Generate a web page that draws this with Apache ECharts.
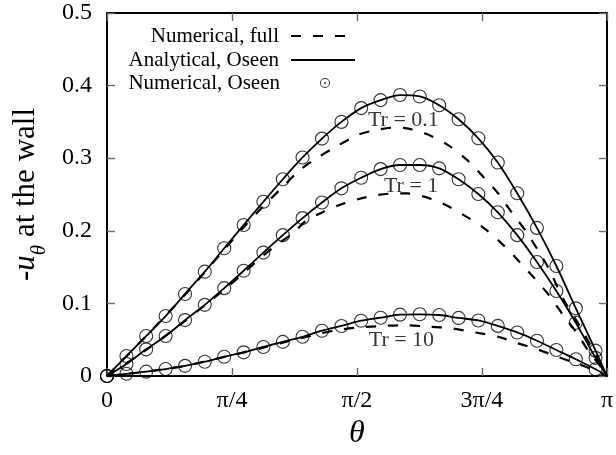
<!DOCTYPE html>
<html>
<head>
<meta charset="utf-8">
<script src="https://cdn.jsdelivr.net/npm/echarts@6/dist/echarts.min.js"></script>
<style>
html,body{margin:0;padding:0;background:#fff;}
#c{width:616px;height:455px;}
</style>
</head>
<body>
<div id="c"></div>
<script>
// ---- data (theta in degrees; axis labelled in multiples of pi) ----
var xTickValues = [0, 45, 90, 135, 180];
var xTickLabels = ['0', 'π/4', 'π/2', '3π/4', 'π'];

// sampling angles of the numerical Oseen points (circles)
var thetaCirc = [0, 7.0, 14.1, 21.1, 28.1, 35.2, 42.2, 49.2, 56.3, 63.3, 70.4, 77.4, 84.4,
  91.5, 98.5, 105.5, 112.6, 119.6, 126.6, 133.7, 140.7, 147.7, 154.8, 161.8, 168.8, 175.9];

var oseenNum01 = [0, 0.0275, 0.055, 0.0826, 0.113, 0.1437, 0.176, 0.208, 0.240, 0.271, 0.301, 0.327, 0.350,
  0.369, 0.380, 0.387, 0.385, 0.373, 0.3536, 0.3274, 0.294, 0.2517, 0.204, 0.1515, 0.0932, 0.0349];
var oseenNum1 = [0, 0.0165, 0.0367, 0.055, 0.077, 0.098, 0.121, 0.145, 0.170, 0.194, 0.2175, 0.239, 0.2585,
  0.273, 0.285, 0.2906, 0.2906, 0.286, 0.271, 0.2507, 0.2255, 0.194, 0.157, 0.117, 0.0734, 0.025];
var oseenNum10 = [0, 0.003, 0.006, 0.0096, 0.014, 0.0197, 0.0266, 0.0326, 0.040, 0.047, 0.054, 0.0624, 0.0689,
  0.0762, 0.0803, 0.0845, 0.085, 0.084, 0.080, 0.0765, 0.069, 0.060, 0.0486, 0.0358, 0.023, 0.0092];

// analytical Oseen curves (solid)
var thetaAna = [0, 7.0, 14.1, 21.1, 28.1, 35.2, 42.2, 49.2, 56.3, 63.3, 70.4, 77.4, 84.4,
  91.5, 98.5, 105.5, 112.6, 119.6, 126.6, 133.7, 140.7, 147.7, 154.8, 161.8, 168.8, 175.9, 180];
var oseenAna01 = [0, 0.0275, 0.055, 0.0826, 0.113, 0.1437, 0.176, 0.208, 0.240, 0.271, 0.301, 0.327, 0.350,
  0.369, 0.380, 0.387, 0.385, 0.373, 0.3536, 0.3274, 0.294, 0.2517, 0.204, 0.1515, 0.0932, 0.0349, 0];
var oseenAna1 = [0, 0.0165, 0.0367, 0.055, 0.077, 0.098, 0.121, 0.145, 0.170, 0.194, 0.2175, 0.239, 0.2585,
  0.273, 0.285, 0.2906, 0.2906, 0.286, 0.271, 0.2507, 0.2255, 0.194, 0.157, 0.117, 0.0734, 0.025, 0];
var oseenAna10 = [0, 0.003, 0.006, 0.0096, 0.014, 0.0197, 0.0266, 0.0326, 0.040, 0.047, 0.054, 0.0624, 0.0689,
  0.0762, 0.0803, 0.0845, 0.085, 0.084, 0.080, 0.0765, 0.069, 0.060, 0.0486, 0.0358, 0.023, 0.0092, 0];

// numerical full solution (dashed)
var thetaFull01 = [0, 14.1, 28.1, 42.2, 49.2, 56.3, 62.9, 69.5, 75.4, 82.5, 90.3, 96, 103, 108, 114.6, 122.4,
  129.5, 135.2, 140.8, 145.6, 150.9, 155.1, 159.2, 164, 170.5, 174.1, 180];
var full01 = [0, 0.055, 0.112, 0.174, 0.205, 0.234, 0.259, 0.284, 0.2998, 0.316, 0.332, 0.338, 0.342, 0.341, 0.334, 0.319,
  0.298, 0.2755, 0.2517, 0.226, 0.199, 0.1736, 0.147, 0.108, 0.067, 0.042, 0];
var thetaFull1 = [0, 14.1, 28.1, 42.2, 49.2, 56.3, 60.5, 67.7, 71.2, 77.8, 83.7, 90.3, 97.4, 104, 108, 114.1, 121.2,
  128.3, 135.8, 142.5, 148.3, 153.9, 159.2, 164, 169.4, 172.9, 177.7, 180];
var full1 = [0, 0.036, 0.076, 0.119, 0.142, 0.166, 0.179, 0.199, 0.2125, 0.226, 0.2355, 0.2434, 0.2493, 0.2515, 0.2515, 0.247, 0.237,
  0.222, 0.2034, 0.181, 0.158, 0.1346, 0.111, 0.085, 0.058, 0.037, 0.013, 0];
var thetaFull10 = [0, 14.1, 28.1, 42.2, 56.3, 63.3, 70.4, 76, 83.1, 90.9, 99.2, 106.9, 115.8, 124.2, 132.5, 140.8,
  148, 155.5, 162.5, 170, 174.7, 180];
var full10 = [0, 0.006, 0.014, 0.0262, 0.039, 0.046, 0.0525, 0.058, 0.0634, 0.067, 0.0689, 0.0700, 0.068, 0.0655, 0.060, 0.054,
  0.045, 0.036, 0.026, 0.016, 0.009, 0];

// curve annotations
var trLabels = ['Tr = 0.1', 'Tr = 1', 'Tr = 10'];
var trLabelX = [106.7, 109.5, 106];
var trLabelY = [0.352, 0.262, 0.0496];

// ---- chart ----
var FONT = 'Liberation Serif';
function pairs(xs, ys) { return xs.map(function (x, i) { return [x, ys[i]]; }); }

var chart = echarts.init(document.getElementById('c'), null, { renderer: 'canvas' });

var NAME_FULL = 'Numerical, full', NAME_ANA = 'Analytical, Oseen', NAME_NUM = 'Numerical, Oseen';
var dashStyle = { color: '#000', width: 2.2, type: [10, 12] };
var solidStyle = { color: '#000', width: 1.8 };

function dashed(xs, ys) {
  return { name: NAME_FULL, type: 'line', data: pairs(xs, ys), smooth: 0.3, symbol: 'none',
    lineStyle: dashStyle, itemStyle: { color: '#000' }, z: 2, animation: false };
}
function solid(xs, ys) {
  return { name: NAME_ANA, type: 'line', data: pairs(xs, ys), smooth: 0.3, symbol: 'none',
    lineStyle: solidStyle, itemStyle: { color: '#000' }, z: 3, animation: false };
}
function circles(xs, ys) {
  return { name: NAME_NUM, type: 'scatter', data: pairs(xs, ys), symbol: 'circle', symbolSize: 13,
    itemStyle: { color: 'rgba(0,0,0,0)', borderColor: '#000', borderWidth: 1.1 }, z: 4, animation: false };
}

var tickStyle = { show: true, inside: true, length: 8, lineStyle: { color: '#6a6a6a', width: 1.4 } };
var lineBorder = { show: true, onZero: false, lineStyle: { color: '#000', width: 2 } };
var legendText = function (pr) {
  return { fontFamily: FONT, fontSize: 21, color: '#000', lineHeight: 22, padding: [0, pr, 0, 0] };
};
var hiddenSymbol = { color: 'rgba(0,0,0,0)', borderColor: 'rgba(0,0,0,0)', borderWidth: 0, opacity: 0 };

var option = {
  backgroundColor: '#fff',
  animation: false,
  grid: { left: 107, right: 4.5, top: 13, bottom: 79, containLabel: false },
  legend: [
    { data: [NAME_FULL], right: 266, top: 25, padding: 0, orient: 'vertical', align: 'right',
      itemWidth: 58, itemHeight: 14, selectedMode: false, itemStyle: hiddenSymbol,
      textStyle: legendText(7) },
    { data: [NAME_ANA], right: 260, top: 49, padding: 0, orient: 'vertical', align: 'right',
      itemWidth: 64, itemHeight: 14, selectedMode: false, itemStyle: hiddenSymbol,
      textStyle: legendText(7) },
    { data: [{ name: NAME_NUM,
        icon: 'path://M5,0A5,5,0,1,1,5,10A5,5,0,1,1,5,0ZM5,0.9A4.1,4.1,0,1,0,5,9.1A4.1,4.1,0,1,0,5,0.9ZM5,4A1,1,0,1,1,5,6A1,1,0,1,1,5,4Z',
        itemStyle: { color: '#000', borderWidth: 0 } }],
      right: 286, top: 72, padding: 0, orient: 'vertical', align: 'right',
      itemWidth: 10, itemHeight: 10, selectedMode: false,
      textStyle: legendText(35) }
  ],
  xAxis: [
    { type: 'value', min: 0, max: 180, interval: 45, position: 'bottom',
      axisLine: lineBorder, axisTick: tickStyle, splitLine: { show: false },
      axisLabel: { fontFamily: FONT, fontSize: 24, color: '#000', margin: 13,
        formatter: function (v) { var i = xTickValues.indexOf(v); return i >= 0 ? xTickLabels[i] : ''; } },
      name: 'θ', nameLocation: 'middle', nameGap: 37,
      nameTextStyle: { fontFamily: FONT, fontSize: 32, fontStyle: 'italic', color: '#000' } },
    { type: 'value', min: 0, max: 180, interval: 45, position: 'top',
      axisLine: lineBorder, axisTick: tickStyle, splitLine: { show: false }, axisLabel: { show: false } }
  ],
  yAxis: [
    { type: 'value', min: 0, max: 0.5, interval: 0.1, position: 'left',
      axisLine: lineBorder, axisTick: tickStyle, splitLine: { show: false },
      axisLabel: { fontFamily: FONT, fontSize: 24, color: '#000', margin: 15,
        formatter: function (v) { return v === 0 ? '0' : v.toFixed(1); } },
      name: '{t|-}{u|u}{s|θ}{t| at the wall}', nameLocation: 'middle', nameGap: 66,
      nameTextStyle: { fontFamily: FONT, fontSize: 31, color: '#000',
        rich: {
          t: { fontFamily: FONT, fontSize: 31, color: '#000', verticalAlign: 'bottom', lineHeight: 34 },
          u: { fontFamily: FONT, fontSize: 31, fontStyle: 'italic', color: '#000', verticalAlign: 'bottom', lineHeight: 34 },
          s: { fontFamily: FONT, fontSize: 21, fontStyle: 'italic', color: '#000', verticalAlign: 'bottom', lineHeight: 34, padding: [0, 0, -9, 0] }
        } } },
    { type: 'value', min: 0, max: 0.5, interval: 0.1, position: 'right',
      axisLine: lineBorder, axisTick: tickStyle, splitLine: { show: false }, axisLabel: { show: false } }
  ],
  series: [
    dashed(thetaFull01, full01),
    dashed(thetaFull1, full1),
    dashed(thetaFull10, full10),
    solid(thetaAna, oseenAna01),
    solid(thetaAna, oseenAna1),
    solid(thetaAna, oseenAna10),
    circles(thetaCirc, oseenNum01),
    circles(thetaCirc, oseenNum1),
    circles(thetaCirc, oseenNum10),
    { name: 'labels', type: 'scatter', symbolSize: 0, z: 5, silent: true, animation: false,
      data: trLabels.map(function (t, i) { return { value: [trLabelX[i], trLabelY[i]], label: { formatter: t } }; }),
      label: { show: true, position: 'inside', fontFamily: FONT, fontSize: 22, color: '#000' } }
  ]
};
chart.setOption(option);
</script>
</body>
</html>
